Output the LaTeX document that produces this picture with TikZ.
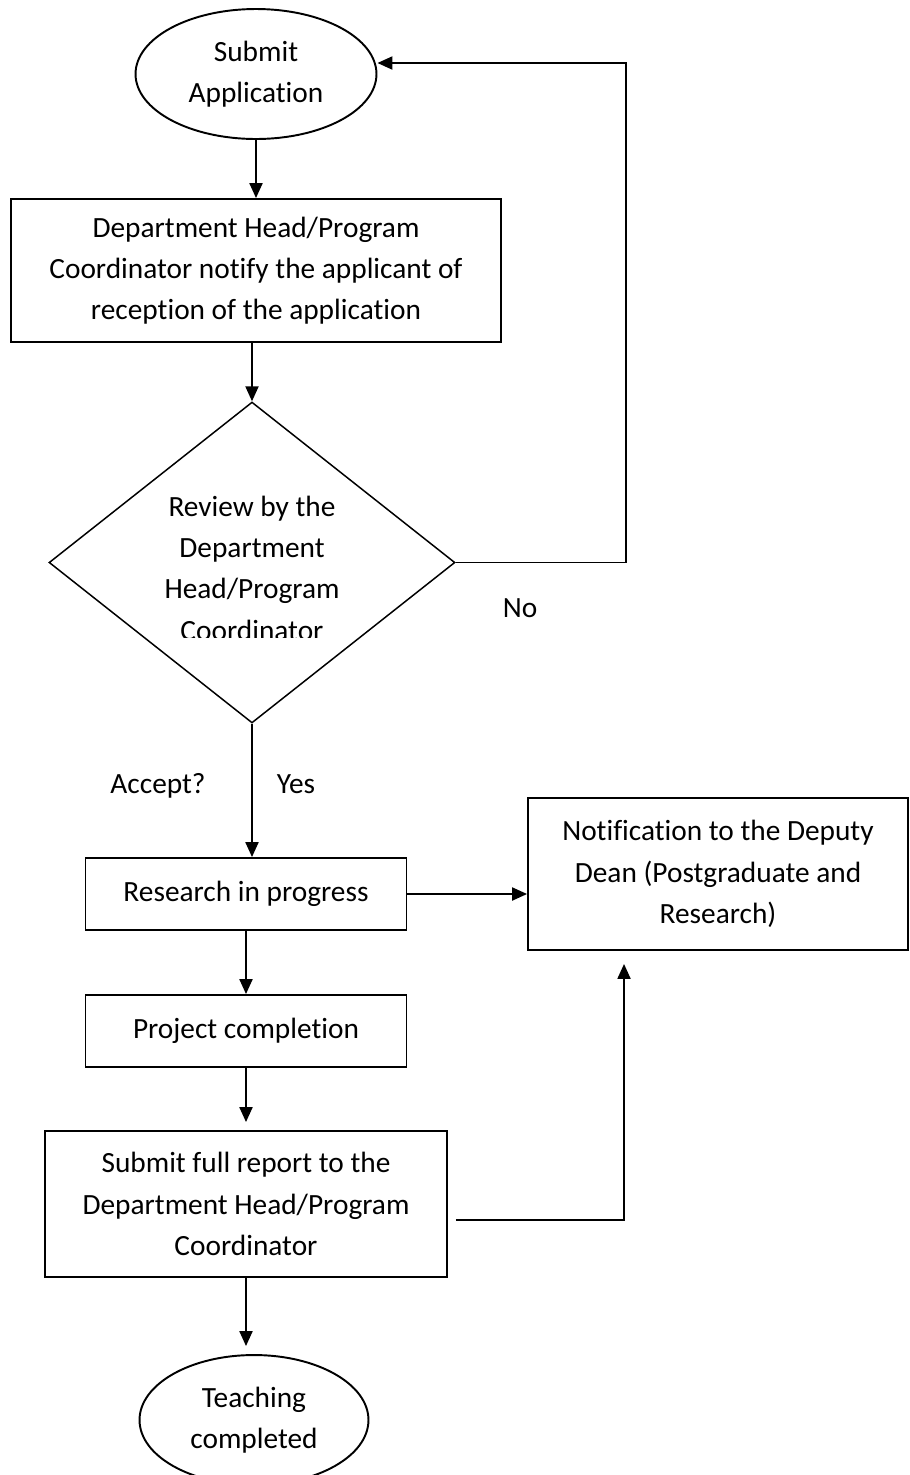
\documentclass[tikz,border=0pt]{standalone}
\usepackage{fontspec}
\setmainfont{Carlito}[Ligatures=CommonOff]
\usetikzlibrary{shapes.geometric, arrows.meta, calc}

\begin{document}
\begin{tikzpicture}[x=0.02cm, y=-0.02cm,
    font=\fontsize{16.7}{23.5}\selectfont, >={Triangle[length=8.5pt, width=7.4pt]},
    line width=1.1pt,
    term/.style={draw, ellipse, inner sep=0pt, align=center},
    box/.style={draw, rectangle, inner sep=0pt, align=center},
    decision/.style={draw, diamond, inner sep=0pt, line width=0.85pt},
    lbl/.style={anchor=base}]
    \useasboundingbox (0,0) rectangle (910,1475);
    \node[term, minimum width=4.82cm, minimum height=2.6cm] (submit) at (256,74) {Submit\\Application};
    \node[box, minimum width=9.8cm, minimum height=2.86cm] (notify) at (256,270.5) {Department Head/Program\\Coordinator notify the applicant of\\reception of the application};
    \node[decision, minimum width=8.12cm, minimum height=6.42cm] (review) at (252,562.5) {};
    \begin{scope}
        \clip (100,400) rectangle (400,637);
        \node[align=center] (reviewtext) at (252,568) {Review by the\\Department\\Head/Program\\Coordinator};
    \end{scope}
    \node[lbl] (nolabel) at (520,617) {No};
    \node[lbl] (acceptlabel) at (158,793) {Accept?};
    \node[lbl] (yeslabel) at (296,793) {Yes};
    \node[box, minimum width=6.42cm, minimum height=1.44cm] (research) at (246,894) {Research in progress};
    \node[box, minimum width=7.6cm, minimum height=3.04cm] (notification) at (718,874) {Notification to the Deputy\\Dean (Postgraduate and\\Research)};
    \node[box, minimum width=6.42cm, minimum height=1.44cm] (completion) at (246,1031) {Project completion};
    \node[box, minimum width=8.04cm, minimum height=2.92cm] (report) at (246,1204) {Submit full report to the\\Department Head/Program\\Coordinator};
    \node[term, minimum width=4.58cm, minimum height=2.6cm] (teaching) at (254,1420) {Teaching\\completed};

    \coordinate (loop) at (626,63);
    \draw[->] (submit.south) -- (notify.north);
    \draw[->] (review.north |- notify.south) -- (review.north);
    \draw[->] (review.east) -| (loop) -- (loop -| submit.east);
    \draw[->] (review.south) -- (review.south |- research.north);
    \draw[->] (research.east) -- (notification.west |- research.east);
    \draw[->] (research.south) -- (completion.north);
    \draw[->, shorten >=0.16cm] (completion.south) -- (report.north);
    \draw[->, shorten >=0.16cm] (report.south) -- (report.south |- teaching.north);
    \draw[->, shorten <=0.16cm, shorten >=0.26cm] ([yshift=-0.32cm]report.east) -| ([xshift=-1.88cm]notification.south);
\end{tikzpicture}
\end{document}
